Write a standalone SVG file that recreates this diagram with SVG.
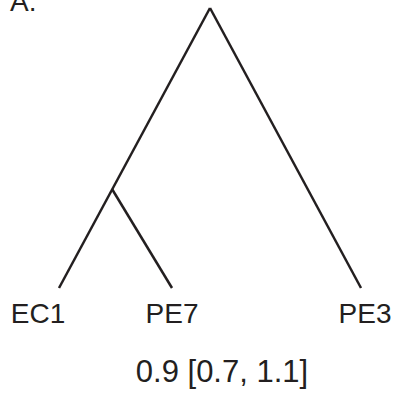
<svg xmlns="http://www.w3.org/2000/svg" width="400" height="398" viewBox="0 0 400 398">
<style>
.t{font-family:"Liberation Sans",Arial,sans-serif;font-size:28px;fill:#231f20}
.b{font-size:31px}
.e{stroke:#231f20;stroke-width:2.5;fill:none;stroke-linecap:butt}
</style>
<rect width="400" height="398" fill="#fff"/>
<text class="t" x="10" y="11">A.</text>
<g id="connectors">
<line class="e" x1="210" y1="8" x2="59" y2="288"/>
<line class="e" x1="210" y1="8" x2="361" y2="288"/>
<line class="e" x1="112" y1="189" x2="172" y2="288"/>
</g>
<g id="EC1"><text class="t" x="38" y="323" text-anchor="middle">EC1</text></g>
<g id="PE7"><text class="t" x="172" y="323" text-anchor="middle">PE7</text></g>
<g id="PE3"><text class="t" x="365" y="323" text-anchor="middle">PE3</text></g>
<text class="t b" x="222" y="382" text-anchor="middle">0.9 [0.7, 1.1]</text>
</svg>
